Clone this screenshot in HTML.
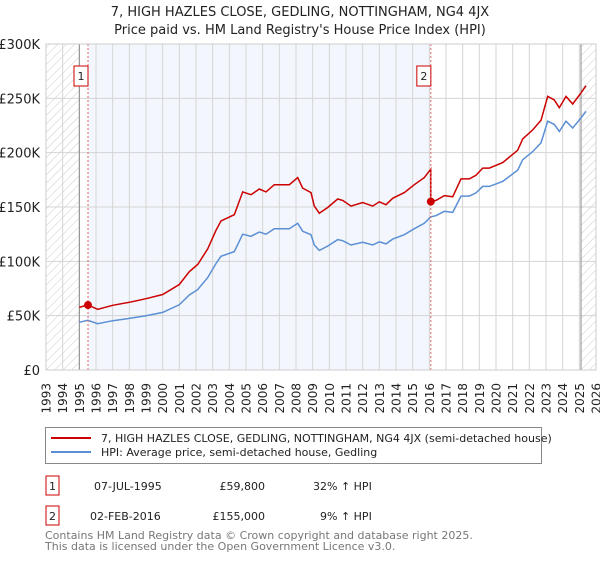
<!DOCTYPE html>
<html><head><meta charset="utf-8"><style>
body{margin:0;background:#fff;font-family:"DejaVu Sans","Liberation Sans",sans-serif;}
svg text{font-family:"DejaVu Sans","Liberation Sans",sans-serif;}
</style></head><body>
<svg id="c" width="600" height="560" viewBox="0 0 600 560" xmlns="http://www.w3.org/2000/svg">
<defs><pattern id="h" width="6" height="6" patternUnits="userSpaceOnUse" patternTransform="rotate(45)"><line x1="0" y1="0" x2="0" y2="6" stroke="#ccc" stroke-width="1"/></pattern></defs>
<text x="300" y="16" text-anchor="middle" font-size="13" fill="#222">7, HIGH HAZLES CLOSE, GEDLING, NOTTINGHAM, NG4 4JX</text>
<text x="300" y="34" text-anchor="middle" font-size="13" fill="#222">Price paid vs. HM Land Registry's House Price Index (HPI)</text>
<g id="plot"></g>
<g>
<rect x="45.5" y="427.5" width="496" height="36" fill="#fff" stroke="#888"/>
<line x1="51" y1="438" x2="91" y2="438" stroke="#cc0000" stroke-width="2"/>
<text x="101" y="442" font-size="11" fill="#222">7, HIGH HAZLES CLOSE, GEDLING, NOTTINGHAM, NG4 4JX (semi-detached house)</text>
<line x1="51" y1="452" x2="91" y2="452" stroke="#5b8fd4" stroke-width="2"/>
<text x="101" y="456" font-size="11" fill="#222">HPI: Average price, semi-detached house, Gedling</text>
</g>
<g font-size="11" fill="#222">
<rect x="46" y="476" width="13" height="19" fill="#fff" stroke="#cc0000"/>
<text x="52.5" y="490" text-anchor="middle">1</text>
<text x="94" y="490">07-JUL-1995</text>
<text x="265" y="490" text-anchor="end">£59,800</text>
<text x="313" y="490">32% ↑ HPI</text>
<rect x="46" y="506" width="13" height="19" fill="#fff" stroke="#cc0000"/>
<text x="52.5" y="520" text-anchor="middle">2</text>
<text x="90" y="520">02-FEB-2016</text>
<text x="265" y="520" text-anchor="end">£155,000</text>
<text x="320" y="520">9% ↑ HPI</text>
</g>
<text x="45" y="539" font-size="11" fill="#777">Contains HM Land Registry data © Crown copyright and database right 2025.</text>
<text x="45" y="550" font-size="11" fill="#777">This data is licensed under the Open Government Licence v3.0.</text>
</svg>
<script>
const hpiYears=[1995.0,1995.5,1996.1,1997,1998,1999,2000,2001,2001.6,2002.1,2002.7,2003.2,2003.5,2004.3,2004.8,2005.3,2005.8,2006.2,2006.7,2007.6,2008.1,2008.4,2008.9,2009.1,2009.4,2009.9,2010.5,2010.8,2011.3,2012,2012.6,2013,2013.4,2013.8,2014.5,2015.1,2015.7,2016.09,2016.4,2016.9,2017.4,2017.9,2018.4,2018.8,2019.2,2019.6,2020.4,2021.3,2021.6,2022.2,2022.7,2023.1,2023.5,2023.8,2024.2,2024.6,2025.1,2025.4];
const hpiValues=[43.9,45.7,42.6,45.4,47.5,50,53,60,69,74,85,98,104.6,109,125,123,127,125,130,130,135,127.6,124.5,115,110,114,120,119,115,117.5,115,118,116,120.5,124.5,130,135,141,142,146,145,160,160,163,169,169,173.6,184,193.5,201,209,229,226,219.6,229,222.7,232,238];
const saleYears=[1995.52,2016.09];
const salePrices=[59.8,155];
const saleLabels=["1","2"];
const yTicks=[0,50,100,150,200,250,300];
const yTickLabels=["£0","£50K","£100K","£150K","£200K","£250K","£300K"];
const xTicks=[];for(let y=1993;y<=2026;y++)xTicks.push(y);

const L=46,R=596,T=44,B=370,x0=1993,x1=2026,vmax=300;
const X=y=>L+(y-x0)*(R-L)/(x1-x0);
const Y=v=>B-v*(B-T)/vmax;
const NS="http://www.w3.org/2000/svg";
const g=document.getElementById('plot');
function mk(t,a){const e=document.createElementNS(NS,t);for(const k in a)e.setAttribute(k,a[k]);g.appendChild(e);return e;}
function hpiAt(t){for(let i=0;i<hpiYears.length-1;i++){if(t>=hpiYears[i]&&t<=hpiYears[i+1]){const f=(t-hpiYears[i])/(hpiYears[i+1]-hpiYears[i]);return hpiValues[i]+f*(hpiValues[i+1]-hpiValues[i]);}}return hpiValues[hpiValues.length-1];}

let e;
e=mk('rect',{x:L,y:T,width:R-L,height:B-T,fill:'#fff'});


e=mk('rect',{x:X(saleYears[0]),y:T,width:X(saleYears[1])-X(saleYears[0]),height:B-T,fill:'#eef3fc',opacity:0.7});


e=mk('rect',{x:L,y:T,width:X(1995)-L,height:B-T,fill:'url(#h)'});


e=mk('rect',{x:X(2025.1),y:T,width:R-X(2025.1),height:B-T,fill:'url(#h)'});


xTicks.forEach(y=>{
 e=mk('line',{x1:X(y),y1:T,x2:X(y),y2:B,stroke:'#d4d4d4','stroke-width':1});
 
 
 e=mk('text',{x:0,y:0,'font-size':12,fill:'#222','text-anchor':'end',transform:`translate(${X(y)+4.5},${B+13}) rotate(-90)`});
 e.textContent=String(y);
 
 
});
yTicks.forEach((v,i)=>{
 e=mk('line',{x1:L,y1:Y(v),x2:R,y2:Y(v),stroke:'#d4d4d4','stroke-width':1});
 
 
 e=mk('text',{x:L-6,y:Y(v)+5,'font-size':13,fill:'#222','text-anchor':'end'});
 e.textContent=yTickLabels[i];
 
 
});
e=mk('line',{x1:X(1995),y1:T,x2:X(1995),y2:B,stroke:'#888'});


e=mk('line',{x1:X(2025.1),y1:T,x2:X(2025.1),y2:B,stroke:'#888'});


// HPI line
let d=hpiYears.map((t,i)=>(i?'L':'M')+X(t).toFixed(1)+' '+Y(hpiValues[i]).toFixed(1)).join(' ');
e=mk('path',{d:d,fill:'none',stroke:'#5b8fd4','stroke-width':1.5});


// property line: HPI indexed to sale prices
const r1=salePrices[0]/hpiAt(saleYears[0]),r2=salePrices[1]/hpiAt(saleYears[1]);
let pts=[];
hpiYears.forEach((t,i)=>{if(t<saleYears[1])pts.push([t,hpiValues[i]*r1]);});
pts.push([saleYears[1],hpiAt(saleYears[1])*r1]);
pts.push([saleYears[1],salePrices[1]]);
hpiYears.forEach((t,i)=>{if(t>saleYears[1])pts.push([t,hpiValues[i]*r2]);});
d=pts.map((p,i)=>(i?'L':'M')+X(p[0]).toFixed(1)+' '+Y(p[1]).toFixed(1)).join(' ');
e=mk('path',{d:d,fill:'none',stroke:'#cc0000','stroke-width':1.5});


saleYears.forEach((t,i)=>{
 e=mk('line',{x1:X(t),y1:T,x2:X(t),y2:B,stroke:'#e06666','stroke-dasharray':'2,2','stroke-width':1});
 
 
 e=mk('circle',{cx:X(t),cy:Y(salePrices[i]),r:4,fill:'#cc0000'});
 
 
 e=mk('rect',{x:X(t)-14,y:66,width:14,height:20,fill:'#fff',stroke:'#cc0000'});
 
 
 e=mk('text',{x:X(t)-7,y:80,'font-size':11,fill:'#222','text-anchor':'middle'});
 e.textContent=saleLabels[i];
 
 
});
e=mk('rect',{x:L,y:T,width:R-L,height:B-T,fill:'none',stroke:'#ccc'});


</script>
</body></html>
